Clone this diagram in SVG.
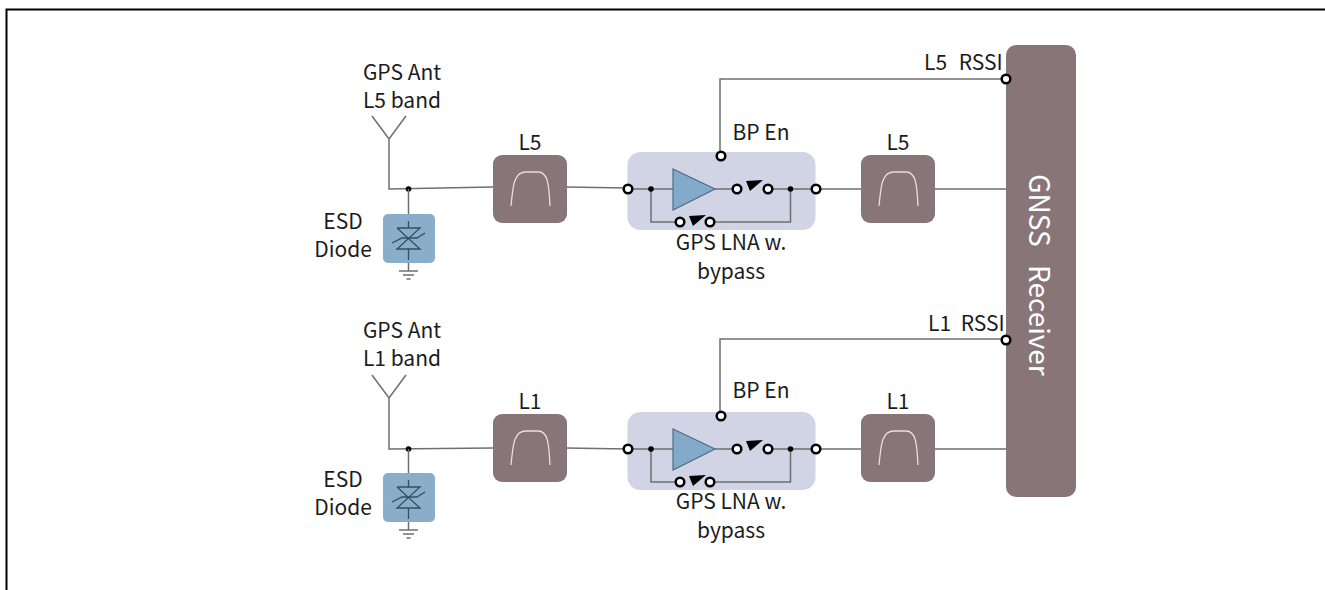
<svg xmlns="http://www.w3.org/2000/svg" width="1325" height="590" viewBox="0 0 1325 590">
<style>
text{font-family:"Noto Sans CJK SC","Noto Sans",sans-serif;font-size:21px;fill:#1c1c1c}
.m{text-anchor:middle}
.w{fill:none;stroke:#6f6f6f;stroke-width:1.5}
.d{fill:none;stroke:#33505f;stroke-width:1.3}
.o{fill:#fff;stroke:#000;stroke-width:2.5}
.b{fill:#000}
.f{fill:#877578}
.c{fill:none;stroke:#e6e0e0;stroke-width:1.3}
</style>
<defs>
<g id="filt"><rect class="f" width="74" height="68" rx="9"/><path class="c" d="M18 51C20 30 21 17 33 17H45C55 17 56 30 57 51"/></g>
<g id="esd"><rect x="383" y="214" width="52" height="49" rx="5" fill="#8aadc9"/>
<path class="d" d="M408.500 221V228M397 228H420L397 249H420L397 228M408.500 249V260M392 243L402 238H417L425 233"/>
<path class="w" d="M408.500 263V271M399 271H418M403 275H414M406.500 279H410.500"/></g>
<g id="lna"><rect x="627.500" y="152" width="188" height="78" rx="13" fill="#d0d4e4"/>
<path class="w" d="M628 189H673M715 189H737M768 189H816M651 189V222H680M710 222H790.500V189"/>
<path d="M673 169L715 189L673 210Z" fill="#83aac8" stroke="#4c6d85" stroke-width="1.2"/>
<path class="b" d="M746 181L763 180L750 191ZM689 216L706 215L693 226Z"/>
<circle class="b" cx="651" cy="189" r="2.800"/><circle class="b" cx="790.500" cy="189" r="2.800"/>
<circle class="o" cx="628" cy="189" r="4.300"/><circle class="o" cx="737" cy="189" r="4.300"/><circle class="o" cx="768" cy="189" r="4.300"/><circle class="o" cx="816" cy="189" r="4.300"/><circle class="o" cx="680" cy="222" r="4.300"/><circle class="o" cx="710" cy="222" r="4.300"/>
<circle class="o" cx="721" cy="156" r="4.300"/></g>
</defs>
<rect x="6.500" y="9.500" width="1330" height="600" fill="#fff" stroke="#000" stroke-width="2"/>
<g id="connectors">
<path class="w" d="M372 116L389 139L406 116M389 139V189L493 187M566 187L628 188M816 189H861M935 189H1006M720 155V79H1006"/>
<path class="w" d="M372 375L389 398L406 375M389 398V449L493 448M566 448L628 449M816 449H861M935 449H1006M720 414V339H1006"/>
</g>
<g id="receiver"><rect class="f" x="1006" y="45" width="70" height="452" rx="10"/>
<text class="m" transform="translate(1029 275) rotate(90)" style="fill:#fff;font-size:28px;word-spacing:12px">GNSS Receiver</text>
<circle class="o" cx="1006" cy="79" r="4.300"/><circle class="o" cx="1006" cy="340" r="4.300"/></g>
<g id="antenna-l5"><text class="m" x="402" y="80">GPS Ant</text><text class="m" x="402" y="108">L5 band</text><circle class="b" cx="408.500" cy="189" r="2.800"/><path class="w" d="M408.500 189V214"/></g>
<g id="esd-l5"><use href="#esd"/><text class="m" x="343" y="229">ESD</text><text class="m" x="343" y="257">Diode</text></g>
<g id="filter-l5-a"><use href="#filt" x="493" y="155"/><text class="m" x="530" y="150">L5</text></g>
<g id="lna-l5"><use href="#lna"/><text class="m" x="761" y="140">BP En</text><text class="m" x="731" y="250">GPS LNA w.</text><text class="m" x="731" y="279">bypass</text></g>
<g id="filter-l5-b"><use href="#filt" x="861" y="155"/><text class="m" x="898" y="150">L5</text><text x="924" y="70" style="word-spacing:7px">L5 RSSI</text></g>
<g id="antenna-l1"><text class="m" x="402" y="338">GPS Ant</text><text class="m" x="402" y="366">L1 band</text><circle class="b" cx="408.500" cy="449" r="2.800"/><path class="w" d="M408.500 449V473"/></g>
<g id="esd-l1"><use href="#esd" y="259"/><text class="m" x="343" y="487">ESD</text><text class="m" x="343" y="515">Diode</text></g>
<g id="filter-l1-a"><use href="#filt" x="493" y="414"/><text class="m" x="530" y="409">L1</text></g>
<g id="lna-l1"><use href="#lna" y="260"/><text class="m" x="761" y="398">BP En</text><text class="m" x="731" y="509">GPS LNA w.</text><text class="m" x="731" y="538">bypass</text></g>
<g id="filter-l1-b"><use href="#filt" x="861" y="414"/><text class="m" x="898" y="409">L1</text><text x="928" y="331" style="word-spacing:5px">L1 RSSI</text></g>
</svg>
